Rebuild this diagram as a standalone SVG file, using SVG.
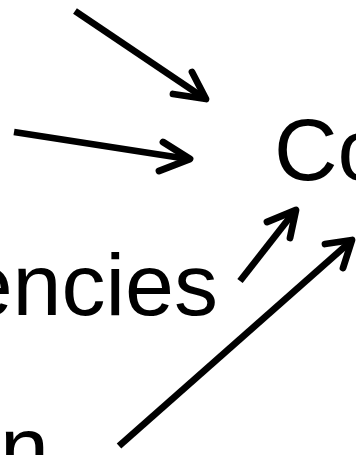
<svg xmlns="http://www.w3.org/2000/svg" width="356" height="455" viewBox="0 0 356 455">
  <style>
    .label { font-family: "Liberation Sans", Arial, sans-serif; font-size: 88px; fill: #000; }
    .shaft { fill: none; stroke: #000; stroke-width: 6.8; stroke-linecap: butt; }
    .head { fill: none; stroke: #000; stroke-width: 6.8; stroke-linecap: round; stroke-linejoin: round; }
  </style>
  <rect width="356" height="455" fill="#fff"/>

  <g id="node-co">
    <text class="label" x="274" y="180">Co</text>
  </g>
  <g id="node-encies">
    <text class="label" x="218" y="315" text-anchor="end">encies</text>
  </g>
  <g id="node-n">
    <text class="label" x="49" y="478" text-anchor="end">n</text>
  </g>

  <g id="connectors">
    <path class="shaft" d="M75 11 L204 98"/>
    <path class="head" d="M173 94 L206 99 L192 72"/>

    <path class="shaft" d="M14 132 L188 159"/>
    <path class="head" d="M163 142 L190 159 L159 171"/>

    <path class="shaft" d="M240 281 L294 212"/>
    <path class="head" d="M267 222 L296 210 L290 238"/>

    <path class="shaft" d="M119 446 L350 242"/>
    <path class="head" d="M325 244 L352 240 L343 268"/>
  </g>
</svg>
